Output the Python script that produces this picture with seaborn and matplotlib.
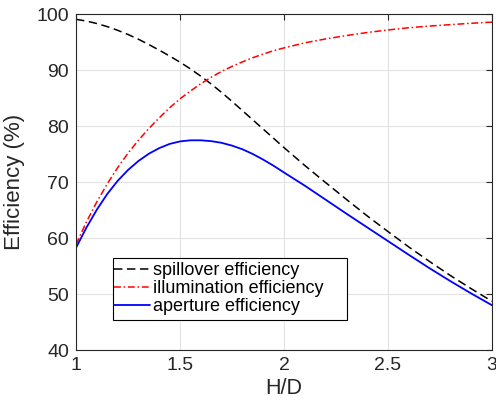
import matplotlib
matplotlib.use("Agg")
import matplotlib.pyplot as plt
import seaborn as sns
import pandas as pd
from matplotlib.patches import Rectangle

# ---- data ----
hd = [1.0, 1.05, 1.1, 1.15, 1.2, 1.25, 1.3, 1.35, 1.4, 1.45, 1.5,
      1.55, 1.6, 1.65, 1.7, 1.75, 1.8, 1.85, 1.9, 1.95, 2.0,
      2.1, 2.2, 2.3, 2.4, 2.5, 2.6, 2.7, 2.8, 2.9, 3.0]
spillover = [99.1, 98.8, 98.35, 97.8, 97.15, 96.4, 95.55, 94.6, 93.6, 92.55, 91.45,
             90.25, 88.95, 87.55, 86.05, 84.45, 82.8, 81.15, 79.5, 77.85, 76.2,
             73.0, 69.95, 66.95, 64.0, 61.2, 58.45, 55.85, 53.35, 51.0, 48.75]
illumination = [58.9, 62.9, 66.5, 69.7, 72.6, 75.2, 77.5, 79.6, 81.5, 83.3, 84.9,
                86.3, 87.6, 88.75, 89.8, 90.7, 91.5, 92.25, 92.9, 93.5, 94.0,
                94.9, 95.6, 96.2, 96.75, 97.2, 97.6, 97.9, 98.15, 98.4, 98.6]
aperture = [58.3, 61.9, 65.1, 67.9, 70.25, 72.2, 73.8, 75.1, 76.1, 76.85, 77.3,
            77.5, 77.5, 77.35, 77.05, 76.55, 75.9, 75.05, 74.05, 72.95, 71.75,
            69.4, 66.9, 64.4, 61.95, 59.5, 57.05, 54.65, 52.35, 50.15, 48.05]
series_labels = ["spillover efficiency", "illumination efficiency", "aperture efficiency"]
x_ticks = [1, 1.5, 2, 2.5, 3]
x_tick_labels = ["1", "1.5", "2", "2.5", "3"]
y_ticks = [40, 50, 60, 70, 80, 90, 100]
x_label = "H/D"
y_label = "Efficiency (%)"

sns.set_theme(style="white")
plt.rcParams["font.family"] = ["Liberation Sans", "DejaVu Sans"]

fig = plt.figure(figsize=(4.96, 4.03), dpi=100)
ax = fig.add_axes([76 / 496, 1 - 350.3 / 403, 416 / 496, 336 / 403])

df = pd.DataFrame({"hd": hd, "spill": spillover, "illum": illumination, "aper": aperture})

sns.lineplot(data=df, x="hd", y="spill", ax=ax, color="black", lw=1.1,
             label=series_labels[0])
sns.lineplot(data=df, x="hd", y="illum", ax=ax, color="#ff0000", lw=1.1,
             label=series_labels[1])
sns.lineplot(data=df, x="hd", y="aper", ax=ax, color="#0000ff", lw=1.3,
             label=series_labels[2])
lines = ax.get_lines()
lines[0].set_dashes([5.5, 3.0])
lines[1].set_dashes([4.5, 1.8, 1.0, 1.8])
for ln in lines:
    ln.set_solid_joinstyle("round")
    ln.set_dash_joinstyle("round")

ax.set_xlim(1, 3)
ax.set_ylim(40, 100)
ax.set_xticks(x_ticks)
ax.set_xticklabels(x_tick_labels)
ax.set_yticks(y_ticks)
ax.set_xlabel(x_label, fontsize=15.5, color="#262626", labelpad=3)
ax.set_ylabel(y_label, fontsize=16, color="#262626", labelpad=8)

ax.grid(True, color="#e2e2e2", lw=0.8)
ax.set_axisbelow(True)
for s in ax.spines.values():
    s.set_visible(True)
    s.set_color("#262626")
    s.set_linewidth(0.8)
ax.tick_params(direction="in", length=4, width=0.8, colors="#262626",
               labelsize=14, top=True, right=True, pad=5)

leg = ax.legend(loc="center", bbox_to_anchor=(0.3438, 0.184), frameon=False,
                fontsize=13, handlelength=2.0, handletextpad=0.15,
                labelspacing=0.05, borderpad=0, borderaxespad=0)
for t in leg.get_texts():
    t.set_color("black")

# legend frame (MATLAB style, square corners)
ax.add_patch(Rectangle((0.0889, 0.0902), 0.6514 - 0.0889, 0.2738 - 0.0902,
                       transform=ax.transAxes, fill=True, facecolor="white",
                       edgecolor="black", lw=0.8, zorder=4.5))
leg.set_zorder(5)

fig.savefig("out.png", dpi=100)
